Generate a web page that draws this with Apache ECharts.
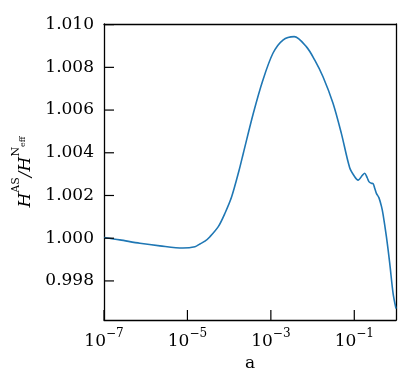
<!DOCTYPE html>
<html>
<head>
<meta charset="utf-8">
<script src="https://cdn.jsdelivr.net/npm/echarts@6/dist/echarts.min.js"></script>
<style>
  html, body { margin: 0; padding: 0; background: #fff; }
  #chart { width: 415px; height: 389px; }
</style>
</head>
<body>
<div id="chart"></div>
<script>
// log10(a) positions of the sampled curve
var log10a = [
  -7.00, -6.62, -6.14, -5.66, -5.11, -4.82, -4.70, -4.58, -4.46, -4.26,
  -4.10, -3.94, -3.76, -3.66, -3.42, -3.19, -2.95, -2.71, -2.44, -2.15,
  -1.95, -1.75, -1.51, -1.31, -1.11, -0.99, -0.91, -0.80, -0.75, -0.69,
  -0.65, -0.59, -0.55, -0.51, -0.47, -0.41, -0.35, -0.31, -0.23, -0.15,
  -0.07, 0.00
]
// H^AS / H^Neff
var ratio = [
  1.00003, 0.99992, 0.99976, 0.99964, 0.99954, 0.99960, 0.99973, 0.99986, 1.00007, 1.00054,
  1.00117, 1.00194, 1.00319, 1.00398, 1.00585, 1.00741, 1.00866, 1.00928, 1.00944, 1.00897,
  1.00835, 1.00756, 1.00632, 1.00491, 1.00330, 1.00288, 1.00272, 1.00296, 1.00304, 1.00283,
  1.00265, 1.00257, 1.00256, 1.00234, 1.00210, 1.00190, 1.00150, 1.00112, 1.00007, 0.99882,
  0.99742, 0.99670
]
// tick positions (x in log10 a)
var xTicks = [-7, -5, -3, -1]
var yTicks = [0.998, 1.000, 1.002, 1.004, 1.006, 1.008, 1.010]

var xMin = -7, xMax = 0
var yMin = 0.99617, yMax = 1.01003
var font = 'DejaVu Serif'
var tickLen = 10

function frameLine() {
  return { show: true, onZero: false, lineStyle: { color: '#000', width: 1.3 } }
}
// bare axis for the top / right frame lines
function frameAxis(pos, min, max) {
  return {
    type: 'value', position: pos, min: min, max: max,
    axisLine: frameLine(), axisTick: { show: false },
    axisLabel: { show: false }, splitLine: { show: false }
  }
}

// inward ticks, placed with the chart's own coordinate system
function tickSeries(values, isX) {
  return {
    type: 'custom',
    silent: true,
    z: 10,
    data: values.map(function (v) { return isX ? [v, yMin] : [xMin, v] }),
    renderItem: function (params, api) {
      var p = api.coord([api.value(0), api.value(1)])
      return {
        type: 'line',
        shape: isX
          ? { x1: p[0], y1: p[1], x2: p[0], y2: p[1] - tickLen }
          : { x1: p[0], y1: p[1], x2: p[0] + tickLen, y2: p[1] },
        style: { stroke: '#000', lineWidth: 1.2 }
      }
    }
  }
}

var chart = echarts.init(document.getElementById('chart'))
var option = {
  animation: false,
  grid: { left: 104, right: 19, top: 24, bottom: 69 },
  xAxis: [{
    type: 'value',
    min: xMin,
    max: xMax,
    name: 'a',
    nameLocation: 'middle',
    nameGap: 27,
    nameTextStyle: { fontFamily: font, fontSize: 17, color: '#000' },
    axisLine: frameLine(),
    splitLine: { show: false },
    axisTick: { show: false },
    axisLabel: {
      customValues: xTicks,
      margin: 8,
      formatter: function (v) {
        return '{b|10}{s|' + String(v).replace('-', '\u2212') + '}'
      },
      rich: {
        b: { fontFamily: font, fontSize: 17, color: '#000', lineHeight: 22, verticalAlign: 'bottom' },
        s: { fontFamily: font, fontSize: 12, color: '#000', lineHeight: 22, verticalAlign: 'top' }
      }
    }
  }, frameAxis('top', xMin, xMax)],
  yAxis: [{
    type: 'value',
    min: yMin,
    max: yMax,
    name: '{it|H}{sup|AS}{n|/}{it|H}{sup|N}{sub|eff}',
    nameLocation: 'middle',
    nameRotate: 90,
    nameGap: 68,
    nameTextStyle: {
      rich: {
        it: { fontFamily: font, fontStyle: 'italic', fontSize: 17, color: '#000', lineHeight: 24, verticalAlign: 'bottom' },
        n: { fontFamily: font, fontStyle: 'italic', fontSize: 17, color: '#000', lineHeight: 24, verticalAlign: 'bottom' },
        sup: { fontFamily: font, fontSize: 11, color: '#000', lineHeight: 24, verticalAlign: 'top' },
        sub: { fontFamily: font, fontSize: 8, color: '#000', lineHeight: 24, verticalAlign: 'middle' }
      }
    },
    axisLine: frameLine(),
    splitLine: { show: false },
    axisTick: { show: false },
    axisLabel: {
      customValues: yTicks,
      margin: 10,
      fontFamily: font,
      fontSize: 17,
      color: '#000',
      formatter: function (v) { return v.toFixed(3) }
    }
  }, frameAxis('right', yMin, yMax)],
  series: [{
    type: 'line',
    data: log10a.map(function (x, i) { return [x, ratio[i]] }),
    showSymbol: false,
    smooth: 0.3,
    lineStyle: { color: '#1f77b4', width: 1.6 },
    clip: true
  },
    tickSeries(xTicks, true),
    tickSeries(yTicks, false)
  ]
}
chart.setOption(option)
</script>
</body>
</html>
